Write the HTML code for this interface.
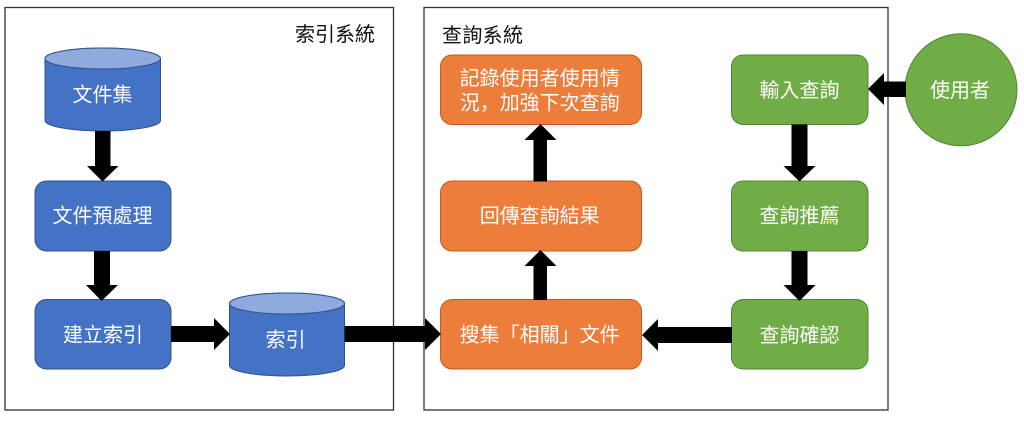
<!DOCTYPE html>
<html><head><meta charset="utf-8"><style>
html,body{margin:0;padding:0;background:#fff;width:1024px;height:421px;overflow:hidden}
svg{display:block}
text{font-family:"Liberation Sans","Noto Sans CJK TC",sans-serif;font-size:20px;fill:#fff;font-weight:400}
.c{text-anchor:middle}
.k{fill:#111}
.sc{font-family:"Noto Sans CJK SC",sans-serif}
</style></head><body>
<svg width="1024" height="421" viewBox="0 0 1024 421" xmlns="http://www.w3.org/2000/svg">
<rect width="1024" height="421" fill="#fff"/>
<rect x="5" y="7.5" width="388.5" height="402.5" fill="#fff" stroke="#333" stroke-width="1.3"/>
<rect x="424" y="7.5" width="464" height="402.5" fill="#fff" stroke="#333" stroke-width="1.3"/>

<!-- cylinders -->
<g stroke="#2f528f" stroke-width="1">
<path d="M45 58.5A57.75 10.5 0 0 1 160.5 58.5V120.5A57.75 10.5 0 0 1 45 120.5Z" fill="#4472c4"/>
<ellipse cx="102.75" cy="58.5" rx="57.75" ry="10.5" fill="#8faadc"/>
<path d="M229.5 303.5A57.5 10.5 0 0 1 344.5 303.5V365.5A57.5 10.5 0 0 1 229.5 365.5Z" fill="#4472c4"/>
<ellipse cx="287" cy="303.5" rx="57.5" ry="10.5" fill="#8faadc"/>
<rect x="35" y="181" width="136" height="70" rx="11.5" fill="#4472c4"/>
<rect x="35" y="299.5" width="136" height="69.5" rx="11.5" fill="#4472c4"/>
</g>
<g stroke="#c55a1c" stroke-width="1" fill="#ed7d3b">
<rect x="440.5" y="55" width="201" height="69.5" rx="11.5"/>
<rect x="440.5" y="181" width="201" height="70" rx="11.5"/>
<rect x="440.5" y="299.5" width="201" height="69.5" rx="11.5"/>
</g>
<g stroke="#548235" stroke-width="1" fill="#70ad47">
<rect x="731.5" y="55" width="136.5" height="69.5" rx="11.5"/>
<rect x="731.5" y="181" width="136.5" height="70" rx="11.5"/>
<rect x="731.5" y="299.5" width="136.5" height="69.5" rx="11.5"/>
<circle cx="961" cy="89.8" r="56"/>
</g>

<!-- arrows -->
<g fill="#000">
<polygon points="95,131 110.5,131 110.5,166 118.5,166 102.5,181.5 87,166 95,166"/>
<polygon points="94,251 110,251 110,285 118,285 101.5,301 86,285 94,285"/>
<polygon points="171,326 214,326 214,318 230,334 214,350 214,342 171,342"/>
<polygon points="344.5,326 425,326 425,318 441,334 425,350 425,342 344.5,342"/>
<polygon points="533.5,181.5 547,181.5 547,140 556.5,140 540.5,124 524.5,140 533.5,140"/>
<polygon points="533.5,300 547,300 547,266 556.5,266 540.5,250 524.5,266 533.5,266"/>
<polygon points="791.5,124.5 807.5,124.5 807.5,166 815.5,166 799.5,181.5 783.5,166 791.5,166"/>
<polygon points="791.5,251 807.5,251 807.5,285 815.5,285 799.5,301 783.5,285 791.5,285"/>
<polygon points="732,327 658,327 658,319 642,335 658,351 658,343 732,343"/>
<polygon points="906,81.5 884,81.5 884,73 868,89 884,105 884,97 906,97"/>
</g>

<!-- labels -->
<text class="k" x="295" y="41" textLength="80">索引系統</text>
<text class="k" x="442" y="42" textLength="81">查詢系統</text>
<text class="c" x="102.5" y="101.5">文件集</text>
<text class="c" x="102.5" y="222.5">文件預處理</text>
<text class="c" x="103" y="341.5">建立索引</text>
<text class="c" x="285.5" y="346.5">索引</text>
<text class="c" x="539.7" y="85">記錄使用者使用情</text>
<text class="c" x="539.7" y="109.5">況<tspan class="sc">，</tspan>加強下次查詢</text>
<text class="c" x="539.7" y="222.5">回傳查詢結果</text>
<text class="c" x="539.7" y="341.5">搜集「相關」文件</text>
<text class="c" x="799.5" y="97">輸入查詢</text>
<text class="c" x="799.5" y="222.5">查詢推薦</text>
<text class="c" x="799.5" y="342">查詢確認</text>
<text class="c" x="960" y="97">使用者</text>
</svg>
</body></html>
